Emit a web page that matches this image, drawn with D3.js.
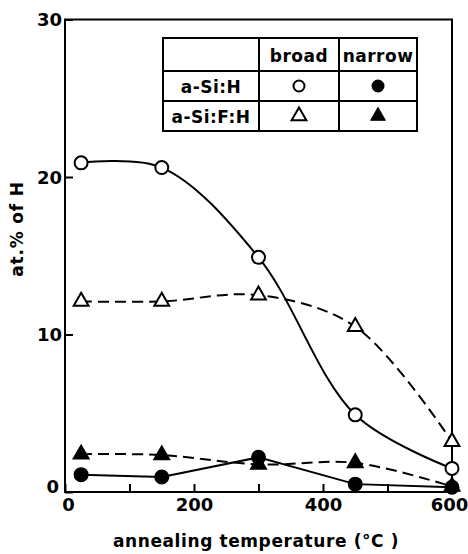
<!DOCTYPE html>
<html><head><meta charset="utf-8">
<script src="https://cdn.jsdelivr.net/npm/d3@7"></script>
<style>body{margin:0;background:#fff}svg{display:block}text{font-family:"DejaVu Sans",sans-serif;fill:#000}</style>
</head><body><svg id="c" width="468" height="554"></svg>
<script>
const temps = [25, 150, 300, 450, 600];
const siH_broad = [20.9, 20.6, 14.9, 4.9, 1.5];
const siH_narrow = [1.1, 0.95, 2.2, 0.5, 0.3];
const siFH_broad = [12.1, 12.1, 12.5, 10.5, 3.2];
const siFH_narrow = [2.4, 2.35, 1.75, 1.85, 0.35];
const xTicks = [0, 200, 400, 600];
const xMinor = [100, 300, 500];
const yTicks = [0, 10, 20, 30];
const legendRows = ["a-Si:H", "a-Si:F:H"];
const legendCols = ["broad", "narrow"];

const svg = d3.select("#c");
const x = d3.scaleLinear().domain([0, 600]).range([65, 452]);
const y = d3.scaleLinear().domain([0, 30]).range([492, 19.5]);

// frame
svg.append("rect").attr("x", 65).attr("y", 19.5).attr("width", 387).attr("height", 472.5)
  .attr("fill", "none").attr("stroke", "#000").attr("stroke-width", 2);

// x axis ticks (inward)
const xa = svg.append("g").attr("transform", "translate(0,492)")
  .call(d3.axisBottom(x).tickValues(xTicks.concat(xMinor)).tickSize(-8).tickFormat(d => xTicks.includes(d) ? d : ""));
xa.select(".domain").remove();
xa.selectAll("line").attr("stroke-width", 2);
xa.selectAll("text").attr("y", 6).attr("font-size", 18).attr("font-weight", "bold")
  .attr("dx", d => d === 600 ? -3 : (d === 0 ? 3 : 0));

const ya = svg.append("g").attr("transform", "translate(65,0)")
  .call(d3.axisLeft(y).tickValues(yTicks).tickSize(-8));
ya.select(".domain").remove();
ya.selectAll("line").attr("stroke-width", 2);
ya.selectAll("text").attr("x", d => d === 0 ? -6 : -3).attr("dy", d => d === 0 ? "0.05em" : "0.35em")
  .attr("font-size", 18).attr("font-weight", "bold");

// axis titles
svg.append("text").attr("x", 256).attr("y", 547).attr("text-anchor", "middle")
  .attr("font-size", 17).attr("font-weight", "bold").attr("letter-spacing", 0.6).text("annealing temperature (°C )");
svg.append("text").attr("transform", "translate(23,229) rotate(-90)").attr("text-anchor", "middle")
  .attr("font-size", 17).attr("font-weight", "bold").attr("letter-spacing", 0.8).text("at.% of H");

function series(vals) { return temps.map((t, i) => [t, vals[i]]); }
const curved = d3.line().x(d => x(d[0])).y(d => y(d[1])).curve(d3.curveCatmullRom.alpha(0.5));
const straight = d3.line().x(d => x(d[0])).y(d => y(d[1]));

svg.append("path").attr("d", curved(series(siH_broad))).attr("fill", "none").attr("stroke", "#000").attr("stroke-width", 2);
svg.append("path").attr("d", curved(series(siFH_broad))).attr("fill", "none").attr("stroke", "#000").attr("stroke-width", 2).attr("stroke-dasharray", "11,6");
svg.append("path").attr("d", straight(series(siH_narrow))).attr("fill", "none").attr("stroke", "#000").attr("stroke-width", 2);
svg.append("path").attr("d", curved(series(siFH_narrow))).attr("fill", "none").attr("stroke", "#000").attr("stroke-width", 2).attr("stroke-dasharray", "11,6");

const tri = d3.symbol().type(d3.symbolTriangle).size(95);
function markers(vals, kind, filled) {
  const g = svg.append("g");
  series(vals).forEach(d => {
    if (kind === "circle") {
      g.append("circle").attr("cx", x(d[0])).attr("cy", y(d[1])).attr("r", 6.5)
        .attr("fill", filled ? "#000" : "#fff").attr("stroke", "#000").attr("stroke-width", 2);
    } else {
      g.append("path").attr("d", tri()).attr("transform", `translate(${x(d[0])},${y(d[1])})`)
        .attr("fill", filled ? "#000" : "#fff").attr("stroke", "#000").attr("stroke-width", 2);
    }
  });
}
markers(siFH_broad, "tri", false);
markers(siH_broad, "circle", false);
markers(siFH_narrow, "tri", true);
markers(siH_narrow, "circle", true);

// legend table
const colX = [163, 259, 339, 417];
const rowY = [38, 71, 101, 131];
const lg = svg.append("g");
lg.append("rect").attr("x", colX[0]).attr("y", rowY[0]).attr("width", colX[3] - colX[0]).attr("height", rowY[3] - rowY[0])
  .attr("fill", "#fff").attr("stroke", "#000").attr("stroke-width", 2);
[1, 2].forEach(i => {
  lg.append("line").attr("x1", colX[i]).attr("x2", colX[i]).attr("y1", rowY[0]).attr("y2", rowY[3]).attr("stroke", "#000").attr("stroke-width", 2);
  lg.append("line").attr("x1", colX[0]).attr("x2", colX[3]).attr("y1", rowY[i]).attr("y2", rowY[i]).attr("stroke", "#000").attr("stroke-width", 2);
});
legendCols.forEach((c, i) => {
  lg.append("text").attr("x", (colX[i + 1] + colX[i + 2]) / 2).attr("y", rowY[1] - 9).attr("text-anchor", "middle")
    .attr("font-size", 17).attr("font-weight", "bold").attr("letter-spacing", 0.5).text(c);
});
legendRows.forEach((r, i) => {
  lg.append("text").attr("x", (colX[0] + colX[1]) / 2).attr("y", rowY[i + 2] - 8).attr("text-anchor", "middle")
    .attr("font-size", 17).attr("font-weight", "bold").attr("letter-spacing", 0.5).text(r);
});
const cy1 = (rowY[1] + rowY[2]) / 2, cy2 = (rowY[2] + rowY[3]) / 2;
const cx1 = (colX[1] + colX[2]) / 2, cx2 = (colX[2] + colX[3]) / 2;
lg.append("circle").attr("cx", cx1).attr("cy", cy1).attr("r", 5.5).attr("fill", "#fff").attr("stroke", "#000").attr("stroke-width", 2);
lg.append("circle").attr("cx", cx2).attr("cy", cy1).attr("r", 6.5).attr("fill", "#000");
lg.append("path").attr("d", tri()).attr("transform", `translate(${cx1},${cy2})`).attr("fill", "#fff").attr("stroke", "#000").attr("stroke-width", 2);
lg.append("path").attr("d", tri()).attr("transform", `translate(${cx2},${cy2})`).attr("fill", "#000").attr("stroke", "#000").attr("stroke-width", 1);
</script></body></html>
